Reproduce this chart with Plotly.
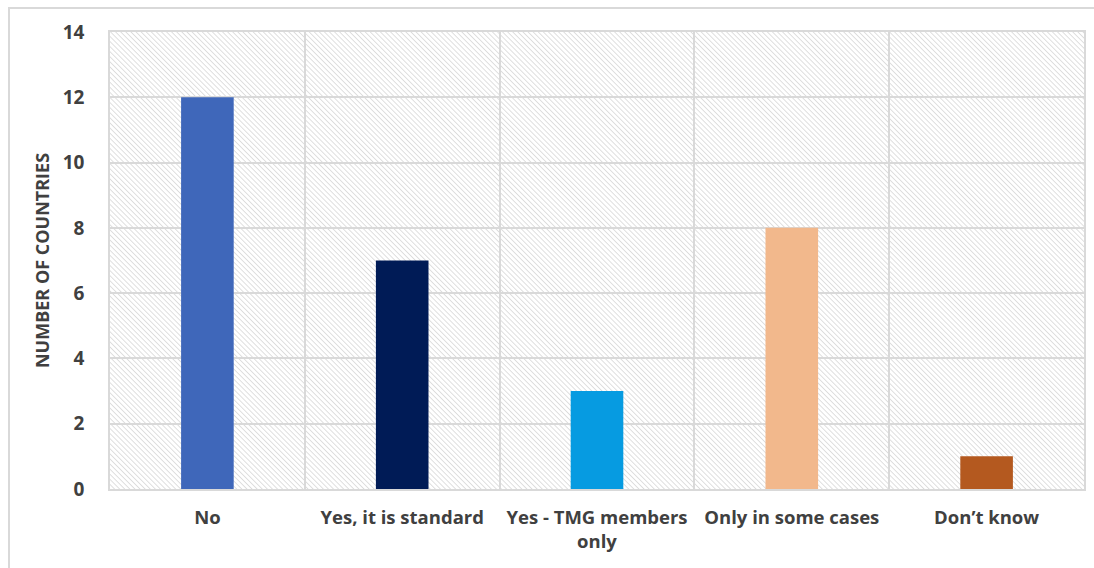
import base64
import plotly.graph_objects as go

# Survey responses
categories = ["No", "Yes, it is standard", "Yes - TMG members<br>only",
              "Only in some cases", "Don\u2019t know"]
countries = [12, 7, 3, 8, 1]
bar_colors = ["#3F67BA", "#001B56", "#069BE1", "#F2B88C", "#B4591F"]
y_ticks = [0, 2, 4, 6, 8, 10, 12, 14]

FONT = "Open Sans"
TEXT = "#404040"
GRID = "#d9d9d9"

# Diagonal hatch used as the plot-area background
hatch_svg = (
    '<svg xmlns="http://www.w3.org/2000/svg" width="974" height="457">'
    '<defs><pattern id="h" width="3.6" height="3.6" patternUnits="userSpaceOnUse" '
    'patternTransform="rotate(-45)">'
    '<line x1="0" y1="0" x2="0" y2="3.6" stroke="#cfcfcf" stroke-width="1.3"/>'
    '</pattern></defs>'
    '<rect width="100%" height="100%" fill="url(#h)"/></svg>'
)
hatch_uri = "data:image/svg+xml;base64," + base64.b64encode(hatch_svg.encode()).decode()

fig = go.Figure(
    go.Bar(
        x=categories,
        y=countries,
        marker=dict(color=bar_colors, line=dict(width=0)),
        hoverinfo="x+y",
    )
)

fig.update_layout(
    width=1094,
    height=568,
    margin=dict(l=110, r=10, t=32, b=79),
    paper_bgcolor="white",
    plot_bgcolor="rgba(0,0,0,0)",
    bargap=0.73,
    showlegend=False,
    font=dict(family=FONT, color=TEXT),
    images=[dict(
        source=hatch_uri, xref="paper", yref="paper",
        x=0, y=1, sizex=1, sizey=1, xanchor="left", yanchor="top",
        sizing="stretch", layer="below",
    )],
    shapes=[dict(
        type="rect", xref="paper", yref="paper",
        x0=-0.1037, x1=1.02, y0=-0.2, y1=1.0525,
        line=dict(color=GRID, width=2), fillcolor="rgba(0,0,0,0)", layer="below",
    )],
)

fig.update_xaxes(
    type="category",
    tickson="boundaries",
    tickangle=0,
    automargin=False,
    showgrid=True, gridcolor=GRID, gridwidth=1.5,
    showline=True, mirror=True, linecolor=GRID, linewidth=1.5,
    ticks="", ticklabelstandoff=11,
    tickfont=dict(family=FONT, size=18.5, color=TEXT, weight="bold"),
)

fig.update_yaxes(
    range=[0, 14],
    tickvals=y_ticks,
    automargin=False,
    showgrid=True, gridcolor=GRID, gridwidth=1.5,
    showline=True, mirror=True, linecolor=GRID, linewidth=1.5,
    zeroline=False,
    ticks="", ticklabelstandoff=20,
    tickfont=dict(family=FONT, size=19, color=TEXT, weight="bold"),
    title=dict(text="NUMBER OF COUNTRIES", standoff=8,
               font=dict(family=FONT, size=18, color=TEXT, weight="bold")),
)

fig.write_html("out.html")
